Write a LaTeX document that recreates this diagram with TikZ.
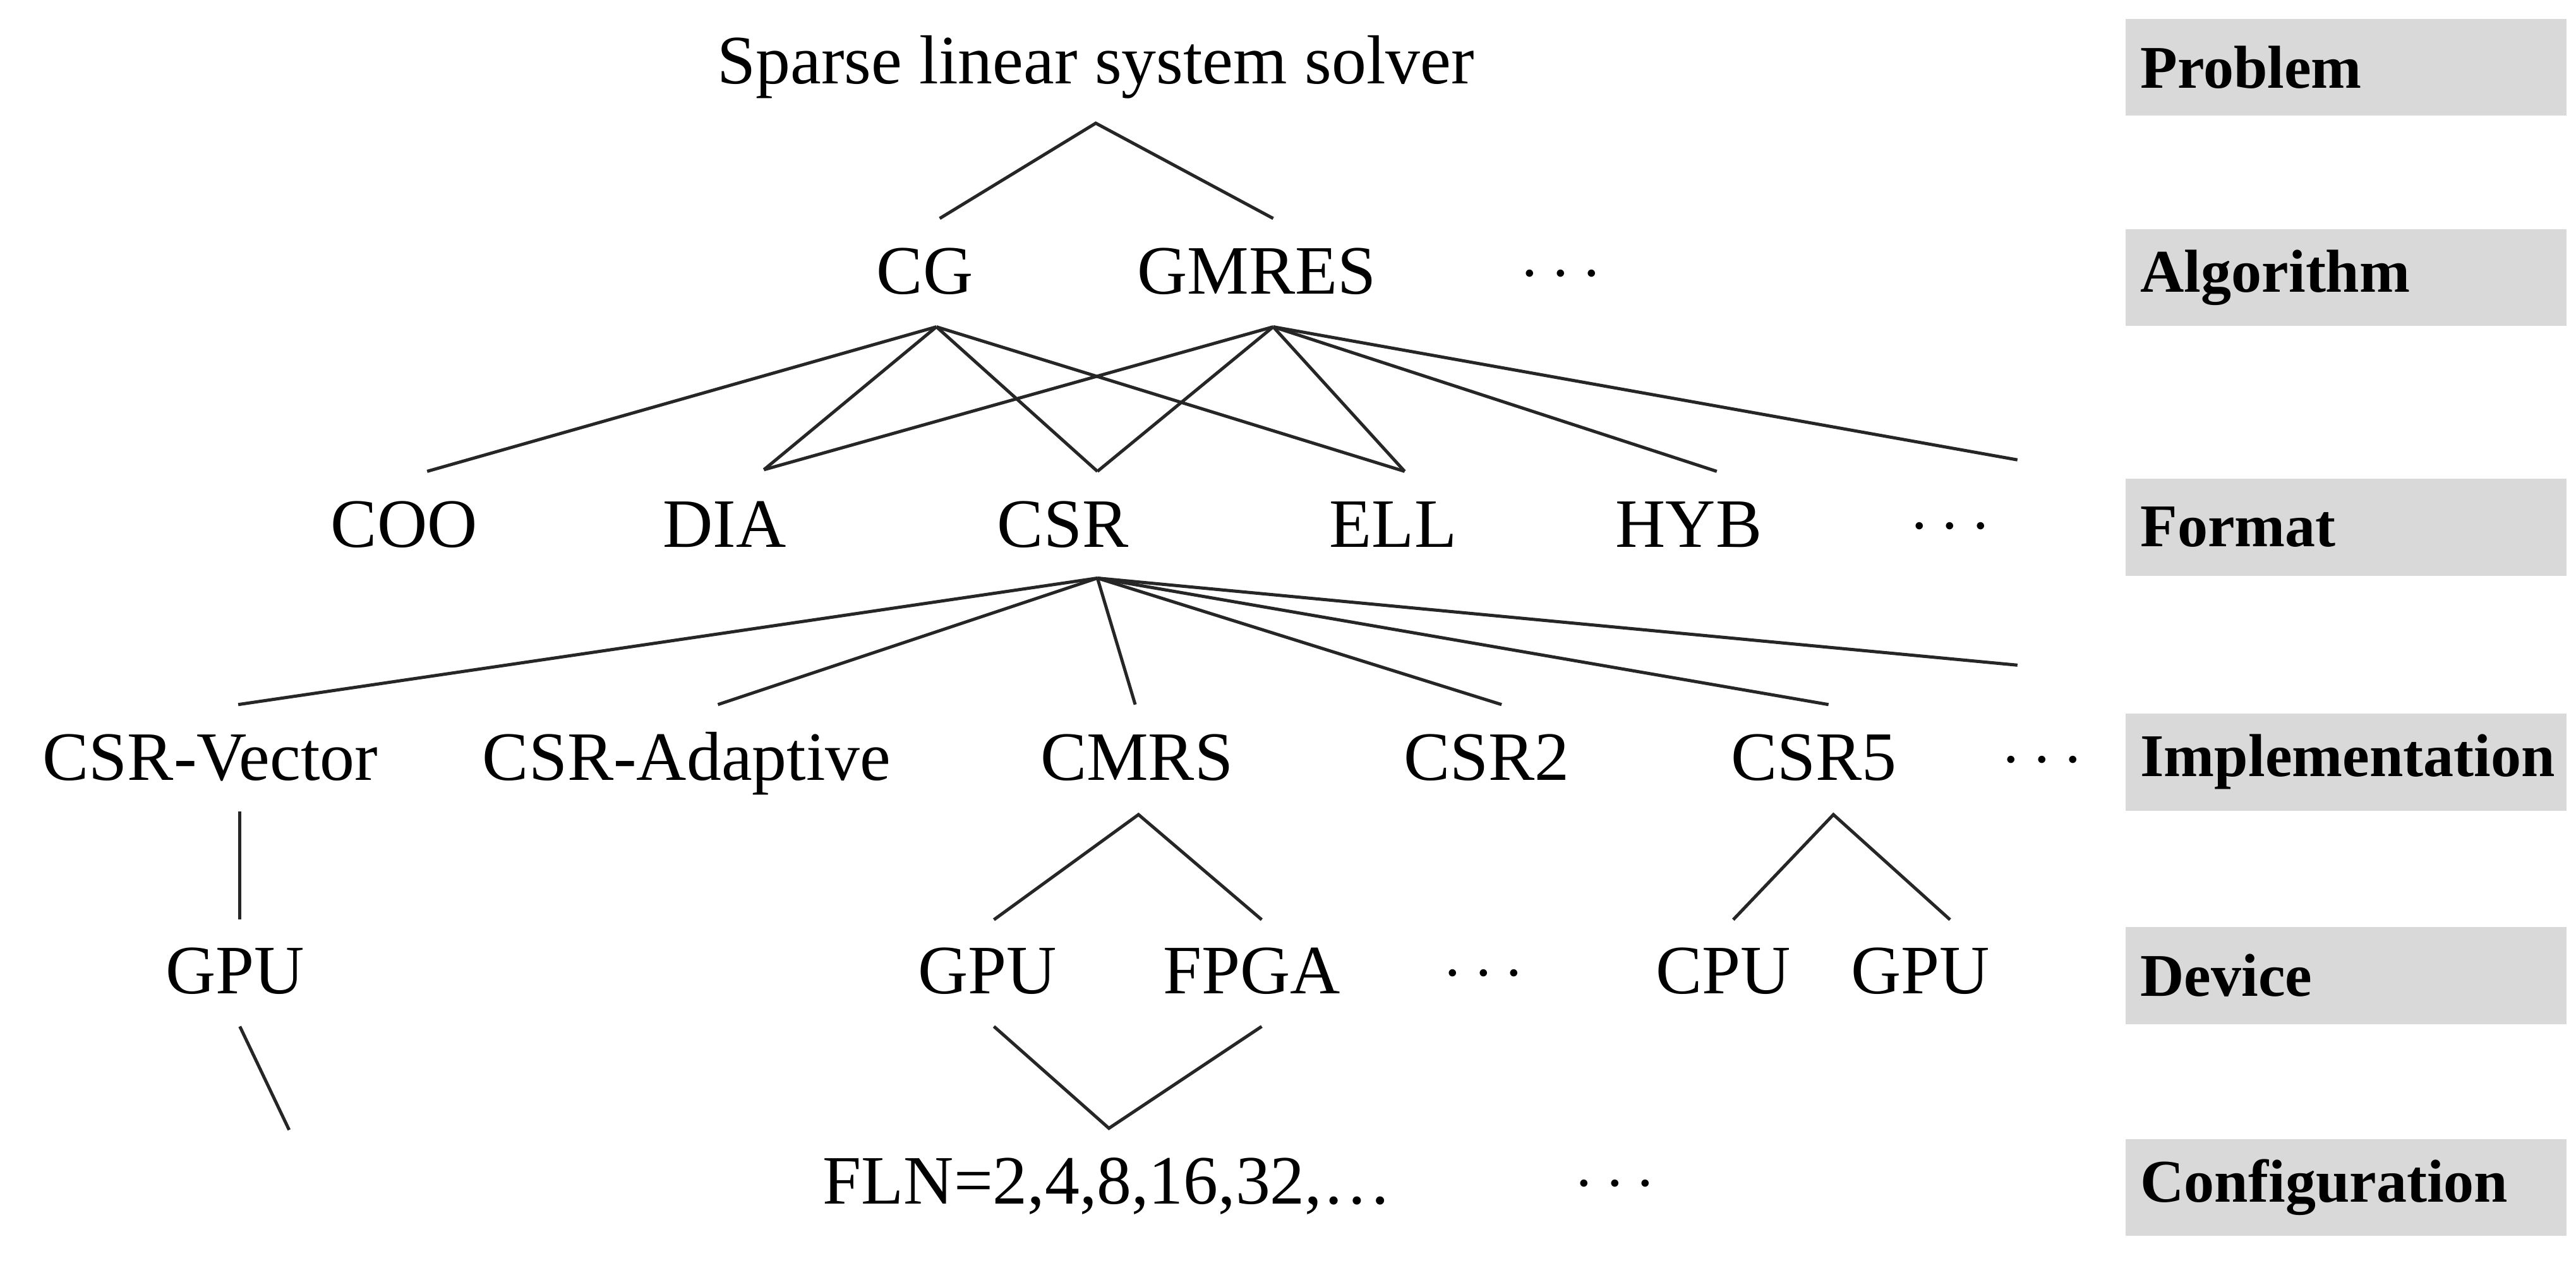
\documentclass[tikz,border=0pt]{standalone}
\usepackage{fontspec}
\setmainfont{Liberation Serif}
\begin{document}
\begin{tikzpicture}[x=0.01cm,y=-0.01cm,
  lbl/.style={font=\fontsize{12}{14}\selectfont, inner sep=0pt, text height=0.3cm, text depth=0.08cm},
  lev/.style={fill=black!15, minimum width=2.68cm, minimum height=0.59cm, font=\fontsize{10.5}{12}\selectfont\bfseries, text width=2.5cm, align=left, inner sep=0pt},
  ln/.style={line width=0.55pt, black!85}]
\useasboundingbox (0,0) rectangle (1568,772);
% level boxes
\node[lev] (l1) at (1428,41) {Problem};
\node[lev] (l2) at (1428,169) {Algorithm};
\node[lev] (l3) at (1428,321) {Format};
\node[lev] (l4) at (1428,464) {Implementation};
\node[lev] (l5) at (1428,594) {Device};
\node[lev] (l6) at (1428,723) {Configuration};
% nodes
\node[lbl] (p) at (667,40) {Sparse linear system solver};
\node[lbl] (cg) at (563,168) {CG};
\node[lbl] (gm) at (765,168) {GMRES};
\node[lbl] (ad) at (950,166) {$\cdots$};
\node[lbl] (coo) at (246,322) {COO};
\node[lbl] (dia) at (441,322) {DIA};
\node[lbl] (csr) at (647,322) {CSR};
\node[lbl] (ell) at (848,322) {ELL};
\node[lbl] (hyb) at (1028,322) {HYB};
\node[lbl] (fd) at (1187,320) {$\cdots$};
\node[lbl] (cv) at (128,464) {CSR-Vector};
\node[lbl] (ca) at (418,464) {CSR-Adaptive};
\node[lbl] (cm) at (692,464) {CMRS};
\node[lbl] (c2) at (905,464) {CSR2};
\node[lbl] (c5) at (1104,464) {CSR5};
\node[lbl] (id) at (1243,462) {$\cdots$};
\node[lbl] (g1) at (143,594) {GPU};
\node[lbl] (g2) at (601,594) {GPU};
\node[lbl] (fp) at (762,594) {FPGA};
\node[lbl] (dd) at (903,592) {$\cdots$};
\node[lbl] (cpu) at (1049,594) {CPU};
\node[lbl] (g3) at (1169,594) {GPU};
\node[lbl] (fln) at (674,722) {FLN=2,4,8,16,32,\dots};
\node[lbl] (cd) at (983,720) {$\cdots$};
% coordinates
\coordinate (pA) at (667,75);
\coordinate (pL) at (572,133); \coordinate (pR) at (775,133);
\coordinate (cgA) at (570,199); \coordinate (gmA) at (775,199);
\coordinate (tCOO) at (260,287); \coordinate (tDIA) at (465,286);
\coordinate (tCSR) at (668,287); \coordinate (tELL) at (855,287);
\coordinate (tHYB) at (1045,287); \coordinate (tFD) at (1228,280);
\coordinate (csA) at (668,352);
\coordinate (iCV) at (145,429); \coordinate (iCA) at (437,429);
\coordinate (iCM) at (691,429); \coordinate (iC2) at (914,429);
\coordinate (iC5) at (1113,429); \coordinate (iD) at (1228,405);
\coordinate (cmA) at (693,496); \coordinate (cmL) at (605,560); \coordinate (cmR) at (768,560);
\coordinate (c5A) at (1116,496); \coordinate (c5L) at (1055,560); \coordinate (c5R) at (1187,560);
\coordinate (cvB) at (146,494); \coordinate (cvE) at (146,560);
\coordinate (g1B) at (146,625); \coordinate (g1E) at (176,688);
\coordinate (fA) at (675,687); \coordinate (fL) at (605,625); \coordinate (fR) at (768,625);
% lines
\draw[ln] (pL) -- (pA) -- (pR);
\foreach \t in {tCOO,tDIA,tCSR,tELL} \draw[ln] (cgA) -- (\t);
\foreach \t in {tDIA,tCSR,tELL,tHYB,tFD} \draw[ln] (gmA) -- (\t);
\foreach \t in {iCV,iCA,iCM,iC2,iC5,iD} \draw[ln] (csA) -- (\t);
\draw[ln] (cmL) -- (cmA) -- (cmR);
\draw[ln] (c5L) -- (c5A) -- (c5R);
\draw[ln] (cvB) -- (cvE);
\draw[ln] (g1B) -- (g1E);
\draw[ln] (fL) -- (fA) -- (fR);
\end{tikzpicture}
\end{document}
